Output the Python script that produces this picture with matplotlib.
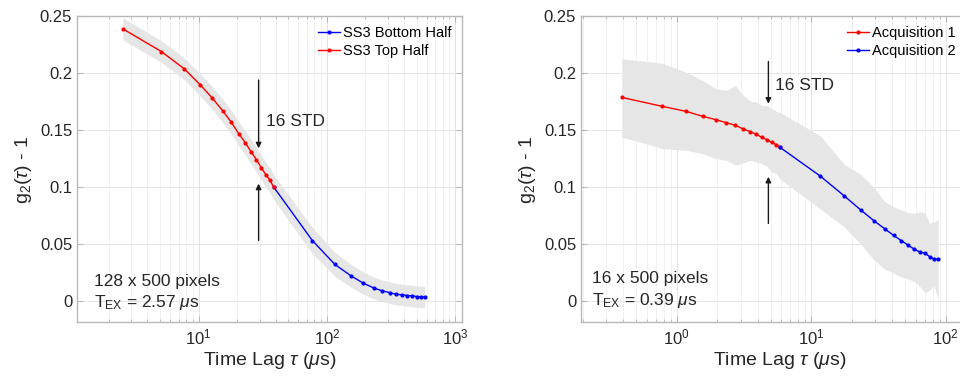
import matplotlib
matplotlib.use("Agg")
import matplotlib.pyplot as plt
from matplotlib.ticker import FixedLocator, FuncFormatter, LogLocator, NullFormatter
import numpy as np

plt.rcParams["font.family"] = ["Liberation Sans", "DejaVu Sans"]
plt.rcParams["mathtext.fontset"] = "custom"
plt.rcParams["mathtext.rm"] = "Liberation Sans"
plt.rcParams["mathtext.it"] = "Liberation Sans:italic"
plt.rcParams["mathtext.bf"] = "Liberation Sans:bold"

# ---- left panel: 128 x 500 pixels, T_EX = 2.57 us ----
tau_top = [2.57, 5.14, 7.71, 10.28, 12.85, 15.42, 17.99, 20.56, 23.13, 25.70,
           28.27, 30.84, 33.41, 35.98, 38.55]
g_top = [0.239, 0.219, 0.204, 0.190, 0.178, 0.167, 0.157, 0.147, 0.139, 0.131,
         0.124, 0.117, 0.111, 0.106, 0.100]
tau_bot = [38.55, 77.1, 115.65, 154.2, 192.75, 231.3, 269.85, 308.4, 346.95, 385.5,
           424.05, 462.6, 501.15, 539.7, 578.25]
g_bot = [0.100, 0.053, 0.032, 0.022, 0.0155, 0.0114, 0.0088, 0.0073, 0.0058, 0.0053,
         0.0047, 0.0044, 0.0038, 0.0035, 0.0032]
# shaded spread, one value per lag (top half lags, then bottom half lags after the shared one)
band_hi_left = [0.2487, 0.2285, 0.2135, 0.1998, 0.1880, 0.1772, 0.1675, 0.1575, 0.1496, 0.1417,
                0.1348, 0.1278, 0.1219, 0.1170, 0.1110,
                0.0645, 0.0425, 0.0320, 0.0253, 0.0210, 0.0183, 0.0168, 0.0152, 0.0147,
                0.0141, 0.0138, 0.0132, 0.0129, 0.0126]
band_lo_left = [0.2293, 0.2095, 0.1945, 0.1802, 0.1680, 0.1568, 0.1465, 0.1365, 0.1284, 0.1203,
                0.1132, 0.1062, 0.1001, 0.0950, 0.0890,
                0.0415, 0.0215, 0.0120, 0.0057, 0.0018, -0.0007, -0.0022, -0.0036, -0.0041,
                -0.0047, -0.0050, -0.0056, -0.0059, -0.0062]

# ---- right panel: 16 x 500 pixels, T_EX = 0.39 us ----
tau_a1 = [0.39, 0.78, 1.17, 1.56, 1.95, 2.34, 2.73, 3.12, 3.51, 3.90,
          4.29, 4.68, 5.07, 5.46, 5.85]
g_a1 = [0.1787, 0.1709, 0.1665, 0.1621, 0.1592, 0.1565, 0.1542, 0.1510, 0.1487, 0.1463,
        0.1437, 0.1416, 0.1393, 0.1373, 0.1349]
tau_a2 = [5.85, 11.7, 17.55, 23.4, 29.25, 35.1, 40.95, 46.8, 52.65, 58.5,
          64.35, 70.2, 76.05, 81.9, 87.75]
g_a2 = [0.1349, 0.1095, 0.0923, 0.0797, 0.0704, 0.0634, 0.0575, 0.0529, 0.0488, 0.0453,
        0.0429, 0.0418, 0.0388, 0.0368, 0.0368]
band_hi_right = [0.2126, 0.2088, 0.2009, 0.1936, 0.1864, 0.1849, 0.1893, 0.1805, 0.1755, 0.1747,
                 0.1717, 0.1717, 0.1688, 0.1667, 0.1655,
                 0.1450, 0.1200, 0.1110, 0.0996, 0.0873, 0.0826, 0.0797, 0.0774, 0.0768,
                 0.0783, 0.0774, 0.0680, 0.0695, 0.0716]
band_lo_right = [0.1440, 0.1338, 0.1323, 0.1294, 0.1250, 0.1235, 0.1192, 0.1212, 0.1235, 0.1220,
                 0.1206, 0.1183, 0.1133, 0.1119, 0.1070,
                 0.0806, 0.0651, 0.0497, 0.0359, 0.0280, 0.0243, 0.0210, 0.0193, 0.0169,
                 0.0125, 0.0073, 0.0096, 0.0131, 0.0015]

yticks = [0, 0.05, 0.1, 0.15, 0.2, 0.25]
spine_c = "#b8b8b8"
text_c = "#262626"
band_c = "#e6e6e6"


def style_axes(ax, xlim):
    ax.set_xscale("log")
    ax.set_xlim(*xlim)
    ax.set_ylim(-0.0187, 0.25)
    ax.yaxis.set_major_locator(FixedLocator(yticks))
    ax.yaxis.set_major_formatter(FuncFormatter(lambda v, p: "%g" % v))
    ax.xaxis.set_minor_locator(LogLocator(base=10, subs=np.arange(2, 10), numticks=20))
    ax.xaxis.set_minor_formatter(NullFormatter())
    ax.grid(True, which="major", color="#e4e4e4", lw=0.7)
    ax.grid(True, which="minor", axis="x", color="#efefef", lw=0.6)
    ax.set_axisbelow(True)
    for s in ax.spines.values():
        s.set_color(spine_c)
        s.set_linewidth(1.0)
    ax.tick_params(which="both", direction="in", top=True, right=True,
                   color=spine_c, labelcolor=text_c, labelsize=12)
    ax.tick_params(which="major", length=4)
    ax.tick_params(which="minor", length=2)
    ax.set_xlabel(r"Time Lag $\tau$ ($\mu$s)", fontsize=14, color=text_c, labelpad=2)
    ax.set_ylabel(r"g$_2$($\tau$) - 1", fontsize=14, color=text_c, labelpad=4)


def arrow(ax, x, y0, y1):
    ax.annotate("", xy=(x, y1), xytext=(x, y0),
                arrowprops=dict(arrowstyle="-|>", color="#1a1a1a", lw=1.0,
                                mutation_scale=8, shrinkA=0, shrinkB=0))


fig = plt.figure(figsize=(9.6, 3.79), dpi=100)

# left
ax1 = fig.add_axes([0.0802, 0.150, 0.401, 0.807])
style_axes(ax1, (1.13, 1130))
ax1.fill_between(tau_top + tau_bot[1:], band_lo_left, band_hi_left, color=band_c, lw=0, zorder=1)
ax1.plot(tau_bot, g_bot, "b.-", lw=1, ms=4, label="SS3 Bottom Half", zorder=3)
ax1.plot(tau_top, g_top, "r.-", lw=1, ms=4, label="SS3 Top Half", zorder=3)
arrow(ax1, 29.4, 0.194, 0.134)
arrow(ax1, 29.4, 0.053, 0.103)
ax1.text(33.5, 0.1536, "16 STD", fontsize=12.5, color=text_c)
ax1.text(1.54, 0.0134, "128 x 500 pixels", fontsize=12.5, color=text_c)
ax1.text(1.54, -0.0055, r"T$_{\rm EX}$ = 2.57 $\mu$s", fontsize=12.5, color=text_c)
ax1.legend(loc="upper right", bbox_to_anchor=(457 / 960, 0.947), bbox_transform=fig.transFigure,
           borderaxespad=0, frameon=False, fontsize=10.5, handlelength=1.5,
           handletextpad=0.2, labelspacing=0.3)

# right (runs off the right edge of the figure, like the source)
ax2 = fig.add_axes([0.6052, 0.150, 0.414, 0.807])
style_axes(ax2, (0.194, 175))
ax2.fill_between(tau_a1 + tau_a2[1:], band_lo_right, band_hi_right, color=band_c, lw=0, zorder=1)
ax2.plot(tau_a1, g_a1, "r.-", lw=1, ms=4, label="Acquisition 1", zorder=3)
ax2.plot(tau_a2, g_a2, "b.-", lw=1, ms=4, label="Acquisition 2", zorder=3)
arrow(ax2, 4.8, 0.2103, 0.1732)
arrow(ax2, 4.8, 0.068, 0.109)
ax2.text(5.35, 0.1855, "16 STD", fontsize=12.5, color=text_c)
ax2.text(0.233, 0.0155, "16 x 500 pixels", fontsize=12.5, color=text_c)
ax2.text(0.233, -0.0035, r"T$_{\rm EX}$ = 0.39 $\mu$s", fontsize=12.5, color=text_c)
ax2.legend(loc="upper right", bbox_to_anchor=(961 / 960, 0.947), bbox_transform=fig.transFigure,
           borderaxespad=0, frameon=False, fontsize=10.5, handlelength=1.5,
           handletextpad=0.2, labelspacing=0.3)

fig.savefig("out.png", dpi=100)
